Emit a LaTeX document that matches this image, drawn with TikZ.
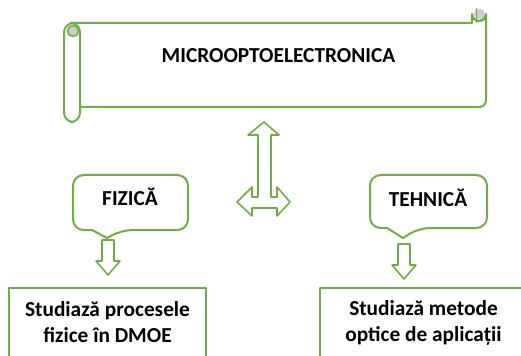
\documentclass[tikz,border=0pt]{standalone}
\usepackage{fontspec}
\setmainfont{Carlito}
\definecolor{vgreen}{RGB}{112,173,71}
\definecolor{curlgray}{RGB}{205,205,205}
\begin{document}
\begin{tikzpicture}[x=0.75pt,y=-0.75pt,line join=round,
	ol/.style={draw=vgreen,line width=1.5pt},
	blk/.style={draw=vgreen,line width=1.2pt,fill=white},
	txt/.style={font=\fontsize{16}{19.5}\selectfont\bfseries,align=center,inner sep=0pt}]
	\useasboundingbox (0,0) rectangle (521,356);
	\clip (0,0) rectangle (521,356);
	\draw[ol] (80,107) [rounded corners=5] -- (486,107) [sharp corners] -- (486,14) arc[start angle=0,end angle=180,radius=7] -- (472,23) -- (72,23);
	\draw[ol,rounded corners=7] (64,23) rectangle (80,122);
	\filldraw[draw=vgreen,line width=1.2pt,fill=curlgray] (73,31) circle(5.5);
	\fill[curlgray] (479.5,14) circle(5.5);
	\draw[ol] (486,14) arc[start angle=0,end angle=180,radius=7];
	\draw[draw=vgreen,line width=1.2pt] (476.5,8) -- (476.5,23);
	\node[txt] (titlu) at (278.5,56) {MICROOPTOELECTRONICA};
	\draw[ol] (92,230) [rounded corners=8] -| (73,175) -| (188,230) -- (122,230) [sharp corners] -- (107,238) -- cycle;
	\draw[ol] (387,228) [rounded corners=8] -| (370,175) -| (487,228) -- (419,228) [sharp corners] -- (403,238) -- cycle;
	\node[txt] (fizica) at (130,197) {FIZICĂ};
	\node[txt] (tehnica) at (428,198) {TEHNICĂ};
	\draw[blk] (264,122) -- (279,135) -- (271,135) -- (271,197) -- (277,197) -- (277,187) -- (290,202) -- (277,216) -- (277,208) -- (252,208) -- (252,216) -- (237,202) -- (252,187) -- (252,197) -- (258,197) -- (258,135) -- (248,135) -- cycle;
	\coordinate (sf) at (108,240);
	\coordinate (st) at (404,244);
	\foreach \a in {sf,st}
		\draw[blk,shift={(\a)}] (-6,0) -- (6,0) -- (6,21) -- (12,21) -- (0,35) -- (-12,21) -- (-6,21) -- cycle;
	\draw[ol] (9,288) rectangle (206,380);
	\draw[ol] (320,288) rectangle (540,380);
	\node[txt] (proc) at (107.5,322) {Studiază procesele\\fizice în DMOE};
	\node[txt] (metode) at (423.5,323) {Studiază metode\\optice de aplicații};
\end{tikzpicture}
\end{document}
